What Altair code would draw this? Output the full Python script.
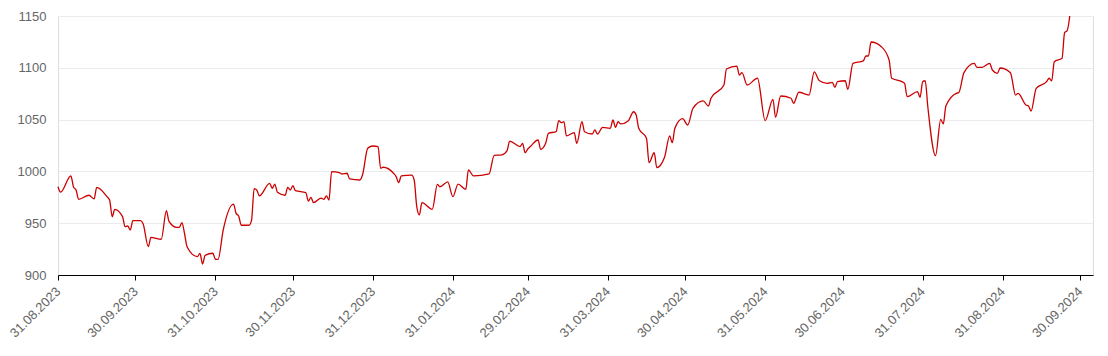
import altair as alt
import pandas as pd

dates = [
    "2023-08-31", "2023-09-01", "2023-09-05", "2023-09-06", "2023-09-07", "2023-09-08",
    "2023-09-12", "2023-09-14", "2023-09-15", "2023-09-19", "2023-09-20", "2023-09-21",
    "2023-09-22", "2023-09-25", "2023-09-26", "2023-09-27", "2023-09-28", "2023-09-29",
    "2023-10-02", "2023-10-03", "2023-10-05", "2023-10-06", "2023-10-10", "2023-10-12",
    "2023-10-13", "2023-10-16", "2023-10-17", "2023-10-18", "2023-10-19", "2023-10-20",
    "2023-10-24", "2023-10-25", "2023-10-26", "2023-10-27", "2023-10-30", "2023-10-31",
    "2023-11-01", "2023-11-03", "2023-11-07", "2023-11-08", "2023-11-09", "2023-11-10",
    "2023-11-13", "2023-11-14", "2023-11-15", "2023-11-16", "2023-11-17", "2023-11-21",
    "2023-11-22", "2023-11-23", "2023-11-24", "2023-11-27", "2023-11-28", "2023-11-29",
    "2023-11-30", "2023-12-01", "2023-12-05", "2023-12-06", "2023-12-07", "2023-12-08",
    "2023-12-11", "2023-12-12", "2023-12-13", "2023-12-14", "2023-12-15", "2023-12-18",
    "2023-12-19", "2023-12-21", "2023-12-22", "2023-12-26", "2023-12-27", "2023-12-29",
    "2023-12-31", "2024-01-02", "2024-01-03", "2024-01-04", "2024-01-08", "2024-01-09",
    "2024-01-10", "2024-01-11", "2024-01-15", "2024-01-16", "2024-01-17", "2024-01-18",
    "2024-01-19", "2024-01-23", "2024-01-25", "2024-01-26", "2024-01-29", "2024-01-31",
    "2024-02-02", "2024-02-05", "2024-02-06", "2024-02-08", "2024-02-14", "2024-02-16",
    "2024-02-19", "2024-02-21", "2024-02-22", "2024-02-26", "2024-02-27", "2024-02-28",
    "2024-02-29", "2024-03-01", "2024-03-04", "2024-03-05", "2024-03-07", "2024-03-08",
    "2024-03-11", "2024-03-12", "2024-03-13", "2024-03-14", "2024-03-15", "2024-03-18",
    "2024-03-19", "2024-03-21", "2024-03-22", "2024-03-25", "2024-03-26", "2024-03-27",
    "2024-03-29", "2024-04-01", "2024-04-02", "2024-04-03", "2024-04-04", "2024-04-05",
    "2024-04-08", "2024-04-10", "2024-04-11", "2024-04-12", "2024-04-15", "2024-04-16",
    "2024-04-18", "2024-04-19", "2024-04-22", "2024-04-24", "2024-04-25", "2024-04-26",
    "2024-04-29", "2024-05-01", "2024-05-03", "2024-05-07", "2024-05-09", "2024-05-10",
    "2024-05-15", "2024-05-16", "2024-05-20", "2024-05-21", "2024-05-22", "2024-05-24",
    "2024-05-28", "2024-05-31", "2024-06-03", "2024-06-04", "2024-06-06", "2024-06-10",
    "2024-06-11", "2024-06-13", "2024-06-17", "2024-06-19", "2024-06-21", "2024-06-24",
    "2024-06-26", "2024-06-27", "2024-06-28", "2024-07-01", "2024-07-02", "2024-07-04",
    "2024-07-08", "2024-07-09", "2024-07-10", "2024-07-11", "2024-07-15", "2024-07-18",
    "2024-07-19", "2024-07-23", "2024-07-24", "2024-07-25", "2024-07-29", "2024-07-30",
    "2024-07-31", "2024-08-01", "2024-08-02", "2024-08-05", "2024-08-07", "2024-08-08",
    "2024-08-09", "2024-08-13", "2024-08-14", "2024-08-16", "2024-08-20", "2024-08-21",
    "2024-08-23", "2024-08-26", "2024-08-27", "2024-08-29", "2024-08-30", "2024-09-03",
    "2024-09-05", "2024-09-06", "2024-09-09", "2024-09-10", "2024-09-11", "2024-09-13",
    "2024-09-17", "2024-09-18", "2024-09-19", "2024-09-20", "2024-09-23", "2024-09-24",
    "2024-09-25", "2024-09-26",
]

values = [
    985.2, 980.0, 995.6, 985.0, 982.0, 973.0,
    977.0, 973.4, 984.6, 975.6, 972.4, 956.3,
    963.4, 956.3, 946.6, 947.3, 943.4, 952.4,
    952.4, 949.2, 927.3, 936.4, 934.5, 962.0,
    951.8, 946.0, 946.0, 950.5, 940.3, 927.3,
    917.7, 920.9, 910.6, 919.0, 921.0, 915.2,
    915.0, 943.4, 968.5, 959.5, 957.0, 948.0,
    948.0, 953.0, 983.3, 982.0, 976.3, 988.5,
    983.7, 987.8, 979.8, 977.0, 984.6, 982.0,
    986.2, 981.4, 979.5, 971.4, 975.0, 969.8,
    974.3, 973.0, 976.3, 972.4, 999.7, 998.8,
    997.5, 998.2, 992.7, 991.7, 996.8, 1022.3,
    1024.5, 1023.9, 1003.0, 1004.0, 998.2, 995.0,
    989.2, 995.6, 996.5, 991.7, 966.0, 958.0,
    969.8, 963.4, 987.4, 985.2, 989.8, 975.6,
    987.8, 982.7, 1001.4, 995.6, 997.5, 1015.5,
    1016.0, 1020.0, 1029.3, 1024.0, 1027.0, 1018.0,
    1021.6, 1024.0, 1030.3, 1021.3, 1027.7, 1036.8,
    1038.3, 1049.0, 1047.0, 1048.0, 1034.2, 1037.4,
    1027.0, 1048.0, 1038.3, 1036.1, 1040.0, 1036.1,
    1042.5, 1041.6, 1049.6, 1042.5, 1048.0, 1045.8,
    1049.0, 1057.6, 1054.4, 1041.6, 1032.0, 1008.4,
    1018.0, 1003.6, 1013.6, 1034.2, 1027.7, 1041.6,
    1050.9, 1044.8, 1060.9, 1068.0, 1063.1, 1070.6,
    1083.4, 1098.8, 1101.7, 1093.0, 1095.3, 1083.4,
    1089.9, 1049.0, 1069.6, 1052.2, 1072.8, 1070.6,
    1065.7, 1076.4, 1073.7, 1096.0, 1087.5, 1085.0,
    1086.0, 1081.2, 1086.6, 1087.5, 1079.2, 1104.3,
    1106.6, 1111.4, 1111.4, 1124.9, 1120.4, 1107.5,
    1089.9, 1086.6, 1085.0, 1072.1, 1077.0, 1071.5,
    1086.6, 1087.5, 1062.4, 1015.2, 1050.3, 1045.8,
    1063.1, 1075.4, 1076.0, 1095.3, 1104.3, 1100.5,
    1100.5, 1104.3, 1097.9, 1094.7, 1099.8, 1095.3,
    1073.7, 1075.4, 1064.1, 1063.1, 1058.3, 1080.2,
    1086.6, 1089.9, 1087.3, 1105.9, 1109.2, 1133.9,
    1135.8, 1150.0,
]

tick_dates = [
    "2023-08-31", "2023-09-30", "2023-10-31", "2023-11-30", "2023-12-31",
    "2024-01-31", "2024-02-29", "2024-03-31", "2024-04-30", "2024-05-31",
    "2024-06-30", "2024-07-31", "2024-08-31", "2024-09-30",
]
y_ticks = [900, 950, 1000, 1050, 1100, 1150]

df = pd.DataFrame({"date": pd.to_datetime(dates), "value": values})

tick_vals = [
    alt.DateTime(year=int(d[0:4]), month=int(d[5:7]), date=int(d[8:10]))
    for d in tick_dates
]

chart = (
    alt.Chart(df)
    .mark_line(color="#cc0000", strokeWidth=1.3, interpolate="monotone")
    .encode(
        x=alt.X(
            "date:T",
            scale=alt.Scale(domain=[
                alt.DateTime(year=2023, month=8, date=31),
                alt.DateTime(year=2024, month=10, date=5),
            ]),
            axis=alt.Axis(
                values=tick_vals,
                format="%d.%m.%Y",
                title=None,
                grid=False,
                labelAngle=-45,
                labelAlign="right",
                labelBaseline="middle",
                labelFont="Liberation Sans",
                labelFontSize=13,
                labelColor="#666666",
                labelPadding=9,
                domainColor="#000000",
                domainWidth=1,
                tickColor="#000000",
                tickSize=5,
                labelOverlap=False,
                labelFlush=False,
            ),
        ),
        y=alt.Y(
            "value:Q",
            scale=alt.Scale(domain=[900, 1150], nice=False, zero=False),
            axis=alt.Axis(
                values=y_ticks,
                format="d",
                title=None,
                domain=False,
                ticks=False,
                labelFont="Liberation Sans",
                labelFontSize=13,
                labelColor="#666666",
                labelPadding=12,
                gridColor="#ebebeb",
                gridWidth=1,
            ),
        ),
    )
    .properties(
        width=1035,
        height=259,
        autosize=alt.AutoSizeParams(type="none"),
        padding={"left": 58, "top": 16, "right": 15, "bottom": 81},
    )
    .configure_view(stroke=None)
    .configure(background="white")
)

chart.save("out.html", embed_options={"renderer": "svg", "actions": False})
